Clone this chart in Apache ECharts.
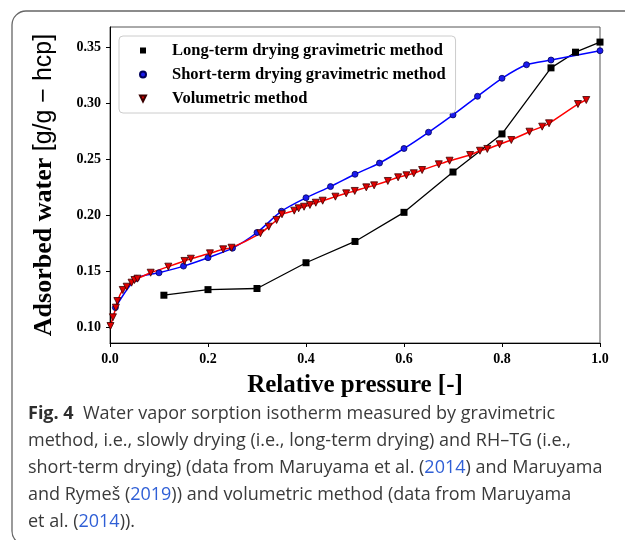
<!DOCTYPE html>
<html>
<head>
<meta charset="utf-8">
<script src="https://cdn.jsdelivr.net/npm/echarts@6/dist/echarts.min.js"></script>
<style>
  html, body { margin: 0; padding: 0; background: #fff; }
  #chart { width: 625px; height: 540px; }
</style>
</head>
<body>
<div id="chart"></div>
<script>
// Long-term drying gravimetric method
const longX = [0.11, 0.2, 0.3, 0.4, 0.5, 0.6, 0.7, 0.8, 0.9, 0.95, 1.0];
const longY = [0.129, 0.134, 0.135, 0.158, 0.177, 0.203, 0.239, 0.273, 0.332, 0.346, 0.355];

// Short-term drying gravimetric method (RH-TG)
const shortX = [0.011, 0.054, 0.10, 0.15, 0.20, 0.25, 0.30, 0.35, 0.40, 0.45, 0.50, 0.55, 0.60, 0.65, 0.70, 0.75, 0.80, 0.85, 0.90, 1.0];
const shortY = [0.118, 0.144, 0.149, 0.155, 0.1625, 0.171, 0.185, 0.204, 0.216, 0.226, 0.237, 0.247, 0.260, 0.2745, 0.290, 0.3066, 0.3227, 0.3348, 0.339, 0.3473];

// Volumetric method
const volX = [0.001, 0.006, 0.012, 0.015, 0.026, 0.034, 0.044, 0.050, 0.056, 0.083, 0.119, 0.152, 0.165, 0.204, 0.231, 0.248,
              0.307, 0.324, 0.340, 0.351, 0.376, 0.385, 0.396, 0.408, 0.420, 0.434, 0.460, 0.482, 0.4995, 0.523, 0.539, 0.567,
              0.588, 0.605, 0.620, 0.637, 0.671, 0.693, 0.735, 0.755, 0.770, 0.795, 0.819, 0.856, 0.882, 0.896, 0.955, 0.972];
const volY = [0.1015, 0.1093, 0.1179, 0.1238, 0.1337, 0.1366, 0.1402, 0.1426, 0.1438, 0.1491, 0.1545, 0.1596, 0.1616, 0.1664, 0.1700, 0.1714,
              0.1843, 0.1902, 0.1962, 0.2013, 0.2045, 0.2066, 0.2080, 0.2096, 0.2116, 0.2134, 0.2170, 0.2200, 0.2221, 0.2253, 0.2271, 0.2310,
              0.2343, 0.2361, 0.2379, 0.2408, 0.2459, 0.2491, 0.2542, 0.2580, 0.2596, 0.2638, 0.2676, 0.2750, 0.2795, 0.2825, 0.2997, 0.3033];

// Axis ticks
const xTicks = [0.0, 0.2, 0.4, 0.6, 0.8, 1.0];
const yTicks = [0.10, 0.15, 0.20, 0.25, 0.30, 0.35];

const seriesNames = ['Long-term drying gravimetric method', 'Short-term drying gravimetric method', 'Volumetric method'];

const zip = (xs, ys) => xs.map((x, i) => [x, ys[i]]);
const TRI_DOWN = 'path://M0,0 L10,0 L5,10 Z';
const SERIF = '"Liberation Serif", "Times New Roman", serif';

const captionLines = [
  [{ t: 'Fig. 4', s: 'b' }, { t: '  Water vapor sorption isotherm measured by gravimetric', s: 'n' }],
  [{ t: 'method, i.e., slowly drying (i.e., long-term drying) and RH\u2013TG (i.e.,', s: 'n' }],
  [{ t: 'short-term drying) (data from Maruyama et al. (', s: 'n' }, { t: '2014', s: 'l' }, { t: ') and Maruyama', s: 'n' }],
  [{ t: 'and Rymeš (', s: 'n' }, { t: '2019', s: 'l' }, { t: ')) and volumetric method (data from Maruyama', s: 'n' }],
  [{ t: 'et al. (', s: 'n' }, { t: '2014', s: 'l' }, { t: ')).', s: 'n' }]
];

// zrender text styles take "fill" for the glyph colour
const captionRich = {
  b: { fontFamily: '"Open Sans", sans-serif', fontWeight: 'bold', fontSize: 18, fill: '#2e2e2e' },
  n: { fontFamily: '"Open Sans", sans-serif', fontSize: 18, fill: '#3a3a3a' },
  l: { fontFamily: '"Open Sans", sans-serif', fontSize: 18, fill: '#2f5fd6' }
};

const captionGraphics = captionLines.map((parts, i) => ({
  type: 'text',
  left: 28,
  top: 405 + i * 27,
  style: {
    text: parts.map(p => '{' + p.s + '|' + p.t + '}').join(''),
    rich: captionRich
  }
}));

const chart = echarts.init(document.getElementById('chart'), null, { renderer: 'canvas' });

chart.setOption({
  backgroundColor: '#fff',
  animation: false,
  grid: {
    left: 110, right: 25, top: 27, bottom: 197,
    show: true, borderColor: '#555', borderWidth: 1
  },
  legend: {
    orient: 'vertical',
    left: 119, top: 36,
    padding: [6, 10, 6, 20],
    backgroundColor: '#fff',
    borderColor: '#ccc', borderWidth: 1, borderRadius: 4,
    itemWidth: 6, itemHeight: 6, itemGap: 7,
    textStyle: { fontFamily: SERIF, fontWeight: 'bold', fontSize: 16.5, color: '#000', padding: [0, 0, 0, 21] },
    data: [
      { name: seriesNames[0], icon: 'rect' },
      { name: seriesNames[1], icon: 'circle' },
      { name: seriesNames[2], icon: TRI_DOWN }
    ]
  },
  xAxis: {
    type: 'value', min: 0, max: 1,
    name: 'Relative pressure [-]',
    nameLocation: 'middle', nameGap: 30,
    nameTextStyle: { fontFamily: SERIF, fontWeight: 'bold', fontSize: 25, color: '#000' },
    axisLine: { show: true, lineStyle: { color: '#000', width: 1 } },
    axisTick: { show: true, length: 4, inside: false, customValues: xTicks, lineStyle: { color: '#000' } },
    axisLabel: {
      customValues: xTicks, margin: 9,
      fontFamily: SERIF, fontWeight: 'bold', fontSize: 14, color: '#000',
      formatter: v => v.toFixed(1)
    },
    splitLine: { show: false }
  },
  yAxis: {
    type: 'value', min: 0.08634, max: 0.36848,
    name: '{b|Adsorbed water }{n|[g/g \u2212 hcp]}',
    nameLocation: 'middle', nameGap: 53, nameRotate: 90,
    nameTextStyle: {
      rich: {
        b: { fontFamily: SERIF, fontWeight: 'bold', fontSize: 26, color: '#000' },
        n: { fontFamily: '"Liberation Sans", Arial, sans-serif', fontSize: 25, color: '#000' }
      }
    },
    axisLine: { show: true, lineStyle: { color: '#000', width: 1 } },
    axisTick: { show: true, length: 4, inside: false, customValues: yTicks, lineStyle: { color: '#000' } },
    axisLabel: {
      customValues: yTicks, margin: 9,
      fontFamily: SERIF, fontWeight: 'bold', fontSize: 14, color: '#000',
      formatter: v => v.toFixed(2)
    },
    splitLine: { show: false }
  },
  series: [
    {
      name: seriesNames[0], type: 'line',
      data: zip(longX, longY),
      symbol: 'rect', symbolSize: 7,
      itemStyle: { color: '#000' },
      lineStyle: { color: '#000', width: 1.3 }
    },
    {
      name: seriesNames[1], type: 'line',
      data: zip(shortX, shortY),
      smooth: 0.25,
      symbol: 'circle', symbolSize: 6,
      itemStyle: { color: '#1a1aee', borderColor: '#00005a', borderWidth: 0.8 },
      lineStyle: { color: '#0000ff', width: 1.5 }
    },
    {
      name: seriesNames[2], type: 'line',
      data: zip(volX, volY),
      smooth: 0.25,
      symbol: TRI_DOWN, symbolSize: 7,
      itemStyle: { color: '#e00000', borderColor: '#3a0000', borderWidth: 0.8 },
      lineStyle: { color: '#ff0000', width: 1.5 }
    }
  ],
  graphic: [
    {
      type: 'rect',
      shape: { x: 12, y: 11, width: 660, height: 534, r: 14 },
      style: { fill: null, stroke: '#666', lineWidth: 1.3 },
      silent: true
    }
  ].concat(captionGraphics)
});
</script>
</body>
</html>
